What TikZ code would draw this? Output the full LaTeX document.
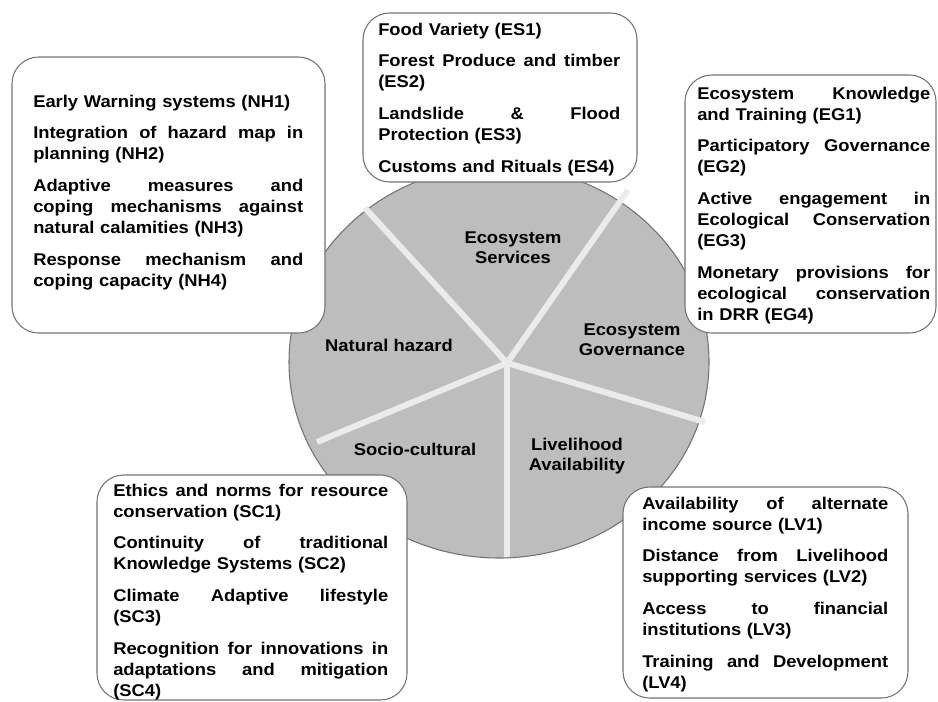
\documentclass[tikz,border=0pt]{standalone}
\usepackage{fontspec}
\setmainfont{Liberation Sans}[FakeStretch=1.08]
\newcommand{\jl}[1]{\makebox[\linewidth][s]{\spaceskip=0.33em plus 10em\relax #1}}

\begin{document}
\begin{tikzpicture}[x=0.75pt,y=-0.75pt,
  wheel/.style={fill=black!26,draw=black!55,line width=0.8pt},
  spoke/.style={draw=black!8,line width=4.5pt},
  box/.style={fill=white,draw=black!55,line width=0.8pt,rounded corners=20pt},
  boxtext/.style={anchor=base west,inner sep=0pt,align=left,
    font=\bfseries\fontsize{12.75}{15.75}\selectfont},
  sector/.style={align=center,inner sep=0pt,
    font=\bfseries\fontsize{12.75}{15}\selectfont}]
\useasboundingbox (0,0) rectangle (938,701);

% the wheel
\draw[wheel] (499,362) ellipse [x radius=157.5pt, y radius=147pt];
\coordinate (hub) at (507,363);
\coordinate (s1) at (365,208);
\coordinate (s2) at (628,190);
\coordinate (s3) at (705,422);
\coordinate (s4) at (507,557);
\coordinate (s5) at (317,442);
\foreach \s in {s1,s2,s3,s4,s5}
  \draw[spoke] (hub) -- (\s);

\node[sector] (es) at (513,248) {Ecosystem\\Services};
\node[sector] (eg) at (632,340) {Ecosystem\\Governance};
\node[sector] (nh) at (389,345) {Natural hazard};
\node[sector] (sc) at (415,449) {Socio-cultural};
\node[sector] (lv) at (577,456) {Livelihood\\Availability};

% the five lists
\draw[box] (12,57) rectangle (325,333);
\node[boxtext,text width=202.5pt] (nhlist) at (33,107) {
Early Warning systems (NH1)\\[8pt]
\jl{Integration of hazard map in}\\
planning (NH2)\\[8pt]
\jl{Adaptive measures and}\\
\jl{coping mechanisms against}\\
natural calamities (NH3)\\[8pt]
\jl{Response mechanism and}\\
coping capacity (NH4)};

\draw[box] (363,13) rectangle (637,182);
\node[boxtext,text width=181.5pt] (eslist) at (378,35) {
Food Variety (ES1)\\[8pt]
\jl{Forest Produce and timber}\\
(ES2)\\[8pt]
\jl{Landslide \& Flood}\\
Protection (ES3)\\[8pt]
Customs and Rituals (ES4)};

\draw[box] (685,75) rectangle (936,333);
\node[boxtext,text width=174.75pt] (eglist) at (697,99) {
\jl{Ecosystem Knowledge}\\
and Training (EG1)\\[8pt]
\jl{Participatory Governance}\\
(EG2)\\[8pt]
\jl{Active engagement in}\\
\jl{Ecological Conservation}\\
(EG3)\\[8pt]
\jl{Monetary provisions for}\\
\jl{ecological conservation}\\
in DRR (EG4)};

\draw[box] (97,475) rectangle (407,700);
\node[boxtext,text width=206.25pt] (sclist) at (113,496) {
\jl{Ethics and norms for resource}\\
conservation (SC1)\\[8pt]
\jl{Continuity of traditional}\\
Knowledge Systems (SC2)\\[8pt]
\jl{Climate Adaptive lifestyle}\\
(SC3)\\[8pt]
\jl{Recognition for innovations in}\\
\jl{adaptations and mitigation}\\
(SC4)};

\draw[box] (623,487) rectangle (908,698);
\node[boxtext,text width=184.5pt] (lvlist) at (642,509) {
\jl{Availability of alternate}\\
income source (LV1)\\[8pt]
\jl{Distance from Livelihood}\\
supporting services (LV2)\\[8pt]
\jl{Access to financial}\\
institutions (LV3)\\[8pt]
\jl{Training and Development}\\
(LV4)};
\end{tikzpicture}
\end{document}
